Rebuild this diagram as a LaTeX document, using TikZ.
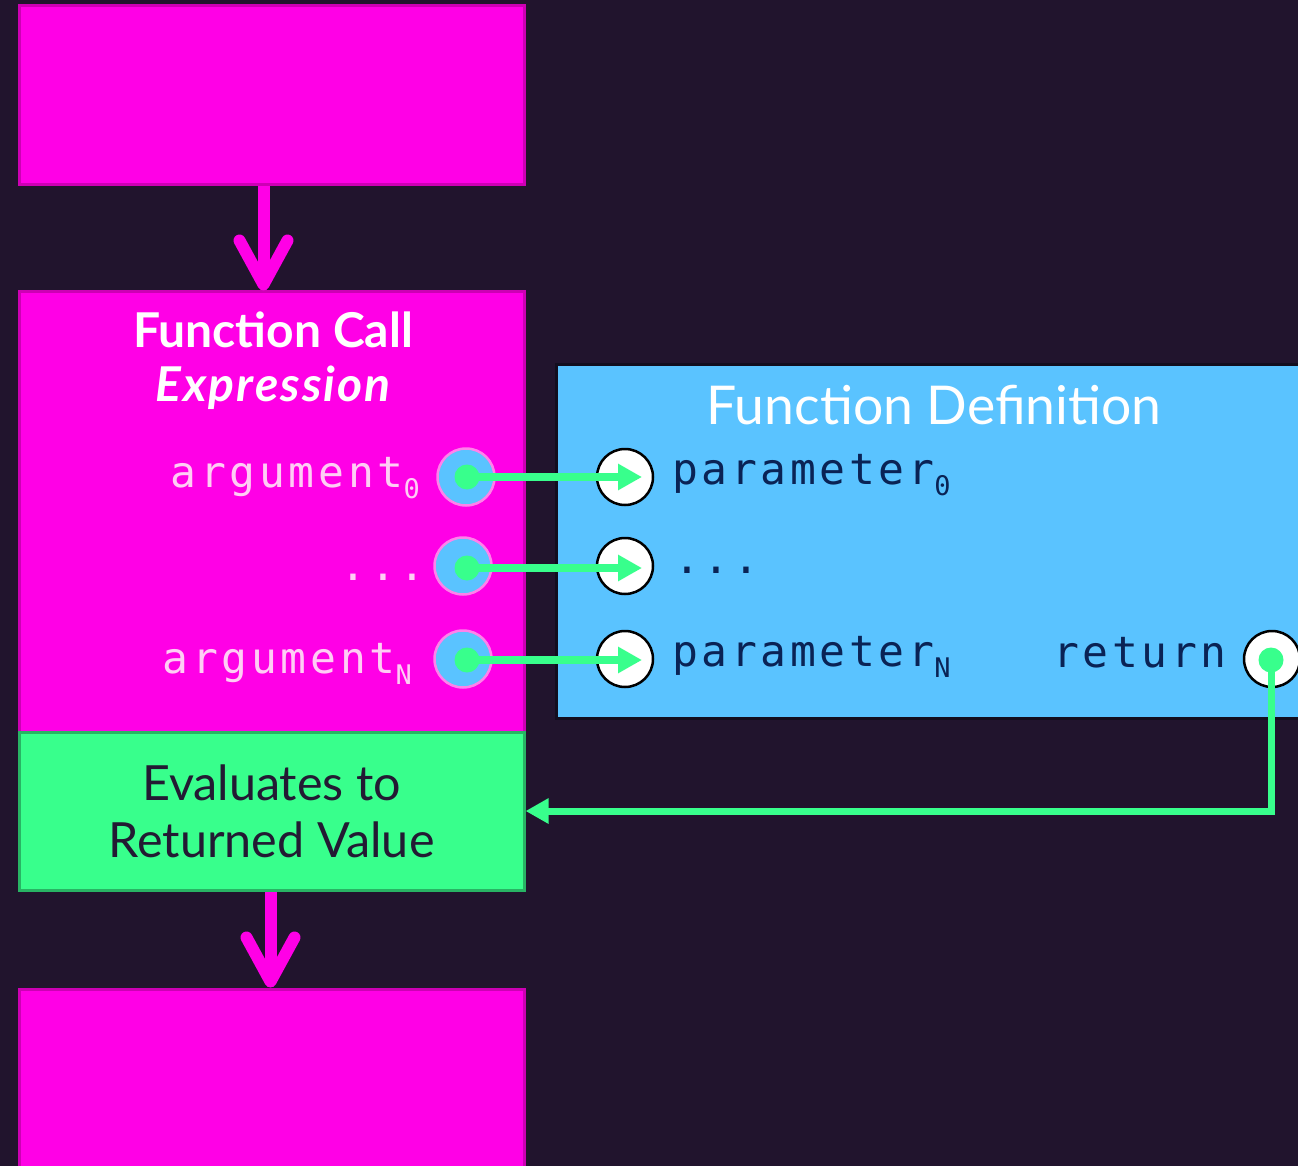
\documentclass[tikz,border=0pt]{standalone}
\usepackage{fontspec}
\setmainfont{Lato}
\newfontfamily\codefont[LetterSpace=8.5]{DejaVu Sans Mono}
\newfontfamily\subfont{DejaVu Sans Mono}
\usetikzlibrary{arrows.meta,calc}

\definecolor{bgdark}{RGB}{33,20,45}
\definecolor{magfill}{RGB}{255,0,230}
\definecolor{magline}{RGB}{205,0,180}
\definecolor{greenfill}{RGB}{56,255,140}
\definecolor{greenline}{RGB}{40,180,100}
\definecolor{bluefill}{RGB}{90,195,255}
\definecolor{blueline}{RGB}{18,14,30}
\definecolor{argpink}{RGB}{255,205,245}
\definecolor{ringpink}{RGB}{255,130,235}
\definecolor{navy}{RGB}{10,35,85}
\definecolor{evaltext}{RGB}{35,26,51}

\newcommand{\sub}[1]{\raisebox{-11pt}{\subfont\fontsize{27}{27}\selectfont #1}}

\tikzset{
  magbox/.style={rectangle, fill=magfill, draw=magline, line width=3pt, inner sep=0pt},
  greenbox/.style={rectangle, fill=greenfill, draw=greenline, line width=3pt, inner sep=0pt,
    align=center, text=evaltext, font=\fontsize{48.5}{57}\selectfont},
  bluebox/.style={rectangle, fill=bluefill, draw=blueline, line width=3pt, inner sep=0pt},
  argring/.style={circle, fill=bluefill, draw=ringpink, line width=2.5pt, minimum size=57pt, inner sep=0pt},
  portring/.style={circle, fill=white, draw=black, line width=2.5pt, minimum size=56pt, inner sep=0pt},
  greendot/.style={circle, fill=greenfill, minimum size=25pt, inner sep=0pt},
  flowarrow/.style={draw=magfill, line width=12pt,
    -{Straight Barb[length=44pt, width=48pt, line width=12pt 0, round]}},
  passarrow/.style={draw=greenfill, line width=8pt, -{Triangle[length=24pt, width=25pt]}},
  retarrow/.style={draw=greenfill, line width=7pt, -{Triangle[length=23pt, width=24pt]}},
  argtext/.style={inner sep=0pt, text=argpink, font=\codefont\fontsize{43}{43}\selectfont},
  partext/.style={inner sep=0pt, text=navy, font=\codefont\fontsize{43}{43}\selectfont},
}

\begin{document}
\begin{tikzpicture}[x=1pt, y=-1pt]
  \useasboundingbox (0,0) rectangle (1298,1166);
  \clip (0,0) rectangle (1298,1166);
  \fill[bgdark] (0,0) rectangle (1298,1166);

  % statement blocks on the left
  \node[magbox, minimum width=505pt, minimum height=179pt] (prev) at (271.5,95.5) {};
  \node[magbox, minimum width=505pt, minimum height=440pt] (call) at (271.5,512) {};
  \node[greenbox, minimum width=505pt, minimum height=158pt] (eval) at (271.5,811)
    {Evaluates to\\Returned Value};
  \node[magbox, minimum width=505pt, minimum height=200pt] (next) at (271.5,1089) {};

  % control flow between blocks
  \draw[flowarrow] ([xshift=-8pt]prev.south) -- ([xshift=-8pt]call.north);
  \draw[flowarrow] ([xshift=-1pt]eval.south) -- ([xshift=-1pt]next.north);

  % call expression title (base anchor sits on the last line)
  \node[anchor=base, text=white, font=\fontsize{48}{54}\selectfont\bfseries, align=center]
    (calltitle) at (273,401)
    {Function Call\\\itshape\addfontfeatures{LetterSpace=4.4}Expression};

  % function definition block
  \node[bluebox, minimum width=760pt, minimum height=354pt] (def) at (936,541) {};
  \node[anchor=base, text=white, font=\fontsize{53.5}{54}\selectfont] (deftitle) at (934,424)
    {Function Definition};

  % argument sockets
  \node[argring] (a0) at (466,477) {};
  \node[argring] (a1) at (463,566) {};
  \node[argring] (a2) at (463,659) {};
  \node[greendot] (d0) at (467,477) {};
  \node[greendot] (d1) at (467,568) {};
  \node[greendot] (d2) at (467,660) {};

  % parameter sockets
  \node[portring] (p0) at (625,477) {};
  \node[portring] (p1) at (625,566) {};
  \node[portring] (p2) at (625,659) {};
  \node[portring] (r) at (1272,659) {};
  \node[greendot] (rd) at (1271,660) {};

  % argument labels
  \node[argtext, anchor=base east] (arg0) at (420,487) {argument\sub{0}};
  \node[argtext, anchor=base east] (arg1) at (426,580) {...};
  \node[argtext, anchor=base east] (arg2) at (412,673) {argument\sub{N}};

  % parameter labels
  \node[partext, anchor=base west] (par0) at (672,484) {parameter\sub{0}};
  \node[partext, anchor=base west] (par1) at (674,573) {...};
  \node[partext, anchor=base west] (par2) at (672,666) {parameter\sub{N}};
  \node[partext, anchor=base west] (ret) at (1053,667) {return};

  % values passed in and returned
  \draw[passarrow] (d0.center) -- ([xshift=17pt]p0.center);
  \draw[passarrow] (d1.center) -- ([xshift=17pt]p1.center |- d1.center);
  \draw[passarrow] (d2.center) -- ([xshift=17pt]p2.center |- d2.center);
  \draw[retarrow] (rd.center) |- (eval.east);
\end{tikzpicture}
\end{document}
